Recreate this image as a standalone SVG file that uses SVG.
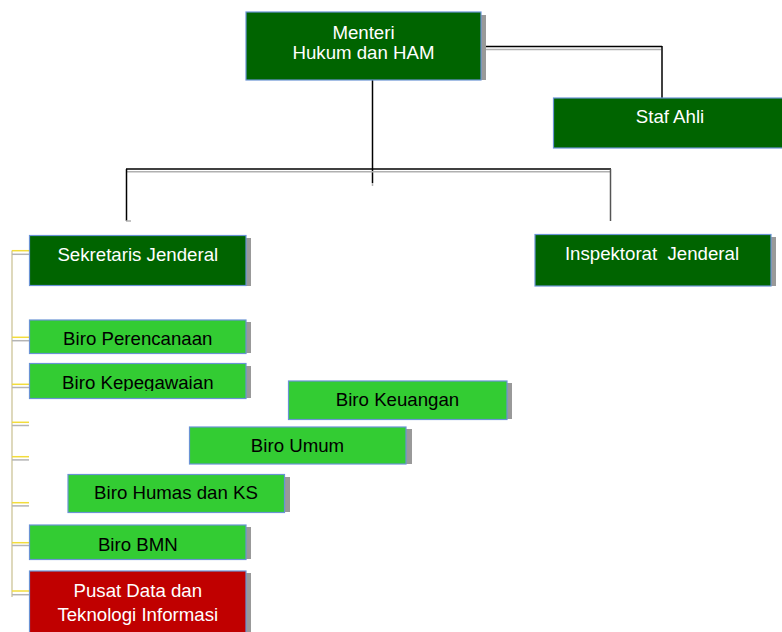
<svg xmlns="http://www.w3.org/2000/svg" width="782" height="632" viewBox="0 0 782 632">
<style>
text{font-family:"Liberation Sans",Arial,sans-serif;font-size:18.67px;text-anchor:middle}
.dk{fill:#006400;stroke:#6a93d4;stroke-width:1.2}
.lt{fill:#33cc33;stroke:#6a93d4;stroke-width:1.2}
.rd{fill:#c00000;stroke:#6a93d4;stroke-width:1.2}
.sh{fill:#999999}
.w{fill:#ffffff}
.b{fill:#000000}
.blk{stroke:#000;stroke-width:1.5;fill:none}
.gry{stroke:#b0b0b0;stroke-width:1.5;fill:none}
.tan{stroke:#c8bf8f;stroke-width:1.2;fill:none}
.yel{stroke:#f2dc3c;stroke-width:1.5;fill:none}
.tg{stroke:#b4b4b4;stroke-width:1.5;fill:none}
</style>
<defs>
<clipPath id="clipKep"><rect x="29" y="363" width="217" height="28"/></clipPath>
</defs>
<g id="connectors">
<line class="gry" x1="481" y1="49.5" x2="661" y2="49.5"/>
<line class="blk" x1="481" y1="46.5" x2="662" y2="46.5"/>
<line class="blk" x1="662" y1="46" x2="662" y2="98"/>
<line class="blk" x1="372.5" y1="80" x2="372.5" y2="183"/>
<line class="gry" x1="372.5" y1="183" x2="372.5" y2="186"/>
<line class="gry" x1="126" y1="171.8" x2="611" y2="171.8"/>
<line class="blk" x1="126" y1="169" x2="611" y2="169"/>
<line class="blk" x1="126.5" y1="169" x2="126.5" y2="221"/>
<line class="gry" x1="126" y1="221" x2="131" y2="221"/>
<line stroke="#555" stroke-width="1.5" x1="610.5" y1="169" x2="610.5" y2="221"/>
<line class="tan" x1="12" y1="250.5" x2="12" y2="597"/>
<g>
<line class="yel" x1="12" y1="250.7" x2="29" y2="250.7"/><line class="tg" x1="12" y1="254.3" x2="29" y2="254.3"/>
<line class="yel" x1="12" y1="337.3" x2="29" y2="337.3"/><line class="tg" x1="12" y1="340.7" x2="29" y2="340.7"/>
<line class="yel" x1="12" y1="384.3" x2="29" y2="384.3"/><line class="tg" x1="12" y1="387.5" x2="29" y2="387.5"/>
<line class="yel" x1="12" y1="422.3" x2="29" y2="422.3"/><line class="tg" x1="12" y1="425.5" x2="29" y2="425.5"/>
<line class="yel" x1="12" y1="456.7" x2="29" y2="456.7"/><line class="tg" x1="12" y1="459.9" x2="29" y2="459.9"/>
<line class="yel" x1="12" y1="502.7" x2="29" y2="502.7"/><line class="tg" x1="12" y1="505.9" x2="29" y2="505.9"/>
<line class="yel" x1="12" y1="542.7" x2="29" y2="542.7"/><line class="tg" x1="12" y1="545.5" x2="29" y2="545.5"/>
<line class="yel" x1="12" y1="591" x2="29" y2="591"/><line class="tg" x1="12" y1="594.7" x2="29" y2="594.7"/>
</g>
</g>
<g id="menteri">
<rect class="sh" x="481" y="15" width="5" height="65"/>
<rect class="dk" x="246" y="12" width="235" height="68"/>
<text class="w" x="363.5" y="38.5">Menteri</text>
<text class="w" x="363.5" y="59">Hukum dan HAM</text>
</g>
<g id="staf-ahli">
<rect class="dk" x="553.5" y="98" width="234" height="50"/>
<text class="w" x="670" y="123">Staf Ahli</text>
</g>
<g id="sekjen">
<rect class="sh" x="246" y="238" width="5" height="48"/>
<rect class="dk" x="29.5" y="235.5" width="216.5" height="50"/>
<text class="w" x="137.8" y="261">Sekretaris Jenderal</text>
</g>
<g id="irjen">
<rect class="sh" x="771" y="237" width="5" height="49"/>
<rect class="dk" x="535" y="234.5" width="236" height="51.5"/>
<text class="w" x="652" y="260" xml:space="preserve">Inspektorat  Jenderal</text>
</g>
<g id="biro-perencanaan">
<rect class="sh" x="246" y="322" width="5" height="31"/>
<rect class="lt" x="29.5" y="320" width="216.5" height="33.5"/>
<text class="b" x="137.8" y="345">Biro Perencanaan</text>
</g>
<g id="biro-kepegawaian">
<rect class="sh" x="246" y="366" width="5" height="32"/>
<rect class="lt" x="29.5" y="363.5" width="216.5" height="35"/>
<text class="b" x="137.8" y="389" clip-path="url(#clipKep)">Biro Kepegawaian</text>
</g>
<g id="biro-keuangan">
<rect class="sh" x="507" y="383" width="5" height="36"/>
<rect class="lt" x="288.5" y="381" width="218.5" height="38.5"/>
<text class="b" x="397.5" y="406">Biro Keuangan</text>
</g>
<g id="biro-umum">
<rect class="sh" x="406" y="429" width="6" height="35"/>
<rect class="lt" x="189.5" y="427" width="216.5" height="37"/>
<text class="b" x="297.5" y="452">Biro Umum</text>
</g>
<g id="biro-humas">
<rect class="sh" x="284.5" y="477" width="5.5" height="35"/>
<rect class="lt" x="68" y="474.5" width="216.5" height="38"/>
<text class="b" x="176" y="499">Biro Humas dan KS</text>
</g>
<g id="biro-bmn">
<rect class="sh" x="246" y="527" width="5" height="32"/>
<rect class="lt" x="29.5" y="525" width="216.5" height="34.5"/>
<text class="b" x="137.8" y="551">Biro BMN</text>
</g>
<g id="pusdatin">
<rect class="sh" x="246" y="573" width="5" height="62"/>
<rect class="rd" x="29.5" y="571" width="216.5" height="66"/>
<text class="w" x="137.8" y="596.7">Pusat Data dan</text>
<text class="w" x="137.8" y="620.7">Teknologi Informasi</text>
</g>
</svg>
